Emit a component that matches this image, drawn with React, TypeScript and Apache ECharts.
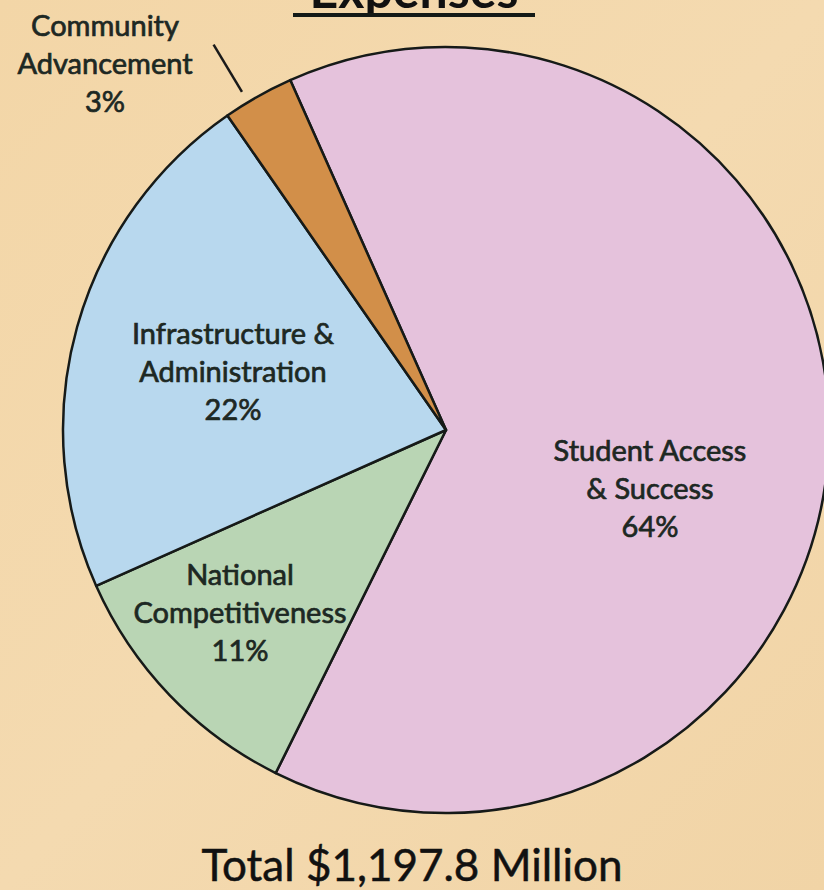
import React, { useEffect, useRef } from "react";
import * as echarts from "echarts";

const categories = [
  "Student Access\n& Success",
  "National\nCompetitiveness",
  "Infrastructure &\nAdministration",
  "Community\nAdvancement",
];
const percentValues = [64, 11, 22, 3];
const sliceColors = ["#e5c2dc", "#b9d5b4", "#b8d8ee", "#d28f49"];
const titleText = "Expenses";
const totalText = "Total $1,197.8 Million";

// label anchor centres (text placement only)
const labelCenters: [number, number][] = [
  [650, 487],
  [240, 611],
  [233, 370],
  [105, 62],
];

const FONT = "Lato, 'Open Sans', sans-serif";
const TEXT_COLOR = "#1d2823";
const CENTER: [number, number] = [446, 430];
const RADIUS = 383;
const START_ANGLE = 114;

export default function App() {
  const ref = useRef<HTMLDivElement>(null);
  useEffect(() => {
    document.body.style.margin = "0";
    const chart = echarts.init(ref.current!, undefined, { renderer: "svg" });
    const total = percentValues.reduce((a, b) => a + b, 0);
    const data = categories.map((name, i) => {
      const item: any = {
        name,
        value: percentValues[i],
        itemStyle: { color: sliceColors[i] },
      };
      if (i === 3) {
        item.label = { position: "outside" };
        item.labelLine = {
          show: true,
          length: 67,
          length2: 0,
          lineStyle: { color: "#1a1a1a", width: 2.5 },
        };
      }
      return item;
    });
    const midAngle = (idx: number) => {
      let before = 0;
      for (let k = 0; k < idx; k++) before += percentValues[k];
      const mid = before + percentValues[idx] / 2;
      return ((START_ANGLE - (mid / total) * 360) * Math.PI) / 180;
    };
    chart.setOption({
      animation: false,
      backgroundColor: {
        type: "linear",
        x: 0,
        y: 0,
        x2: 1,
        y2: 1,
        colorStops: [
          { offset: 0, color: "#f3d6a7" },
          { offset: 0.5, color: "#f4dab0" },
          { offset: 1, color: "#f1d4a6" },
        ],
      },
      graphic: [
        {
          type: "text",
          style: {
            text: titleText,
            x: 414,
            y: -11,
            fill: "#111",
            font: `bold 50px ${FONT}`,
            textAlign: "center",
            textVerticalAlign: "middle",
          },
        },
        {
          type: "rect",
          shape: { x: 293, y: 13, width: 242, height: 4 },
          style: { fill: "#141a17" },
        },
        {
          type: "text",
          style: {
            text: totalText,
            x: 412,
            y: 864,
            fill: "#111",
            font: `44px ${FONT}`,
            textAlign: "center",
            textVerticalAlign: "middle",
            stroke: "#111",
            lineWidth: 0.5,
          },
        },
      ],
      series: [
        {
          type: "pie",
          center: CENTER,
          radius: RADIUS,
          startAngle: START_ANGLE,
          clockwise: true,
          avoidLabelOverlap: false,
          data,
          itemStyle: { borderColor: "#161a18", borderWidth: 2.5 },
          label: {
            show: true,
            position: "inside",
            formatter: (p: any) => `${p.name}\n${p.value}%`,
            color: TEXT_COLOR,
            fontFamily: FONT,
            fontSize: 29,
            lineHeight: 38,
            align: "center",
            textBorderColor: TEXT_COLOR,
            textBorderWidth: 0.7,
          },
          labelLine: { show: false },
          labelLayout: (params: any) => {
            const c = labelCenters[params.dataIndex];
            const out: any = {
              x: c[0],
              y: c[1],
              align: "center",
              verticalAlign: "middle",
            };
            if (params.dataIndex === 3) {
              const a = midAngle(3) + (1.7 * Math.PI) / 180;
              const r0 = RADIUS + 12;
              const r1 = RADIUS + 67;
              out.labelLinePoints = [
                [CENTER[0] + r0 * Math.cos(a), CENTER[1] - r0 * Math.sin(a)],
                [CENTER[0] + r1 * Math.cos(a), CENTER[1] - r1 * Math.sin(a)],
              ];
            }
            return out;
          },
          emphasis: { disabled: true },
        },
      ],
    });
    return () => chart.dispose();
  }, []);
  return <div ref={ref} style={{ width: 824, height: 890 }} />;
}
